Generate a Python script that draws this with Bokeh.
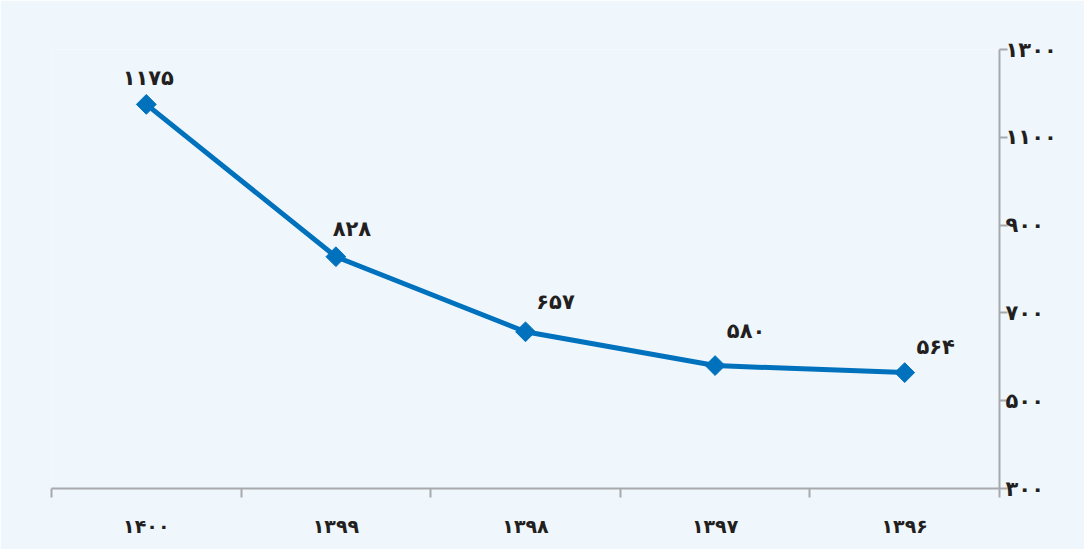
import math
from bokeh.plotting import figure
from bokeh.models import FixedTicker, Range1d, ColumnDataSource
from bokeh.embed import file_html
from bokeh.resources import INLINE
from bokeh.core.properties import value

years = ["۱۴۰۰", "۱۳۹۹", "۱۳۹۸", "۱۳۹۷", "۱۳۹۶"]
values = [1175, 828, 657, 580, 564]
labels = ["۱۱۷۵", "۸۲۸", "۶۵۷", "۵۸۰", "۵۶۴"]
y_ticks = [300, 500, 700, 900, 1100, 1300]
y_tick_labels = ["۳۰۰", "۵۰۰", "۷۰۰", "۹۰۰", "۱۱۰۰", "۱۳۰۰"]

label_dx = [2, 16, 30, 31, 31]
label_dy = [-26, -28, -30, -35, -26]

BG = "#eff7fc"
BLUE = "#0071bc"
FONT = "DejaVu Sans"

xs = [i + 0.5 for i in range(len(years))]
src = ColumnDataSource(dict(x=xs, y=values, lab=labels, dx=label_dx, dy=label_dy))

p = figure(width=1084, height=549, output_backend="svg", toolbar_location=None,
           x_range=Range1d(0, len(years)), y_range=Range1d(300, 1300),
           x_axis_location="below", y_axis_location="right",
           min_border_top=49, min_border_bottom=61, min_border_left=51, min_border_right=85)
p.background_fill_color = BG
p.border_fill_color = BG
p.outline_line_color = None
p.grid.visible = False

p.line("x", "y", source=src, line_color=BLUE, line_width=5)
p.scatter("x", "y", source=src, marker="square", angle=math.pi / 4, size=14,
          fill_color=BLUE, line_color=BLUE)
p.text("x", "y", text="lab", source=src, x_offset="dx", y_offset="dy",
       text_align="center", text_baseline="middle", text_font=value(FONT),
       text_font_style="bold", text_font_size="21px", text_color="#231f20")

xa = p.xaxis[0]
xa.ticker = FixedTicker(ticks=xs, minor_ticks=list(range(len(years) + 1)))
xa.major_label_overrides = {x: y for x, y in zip(xs, years)}
xa.major_tick_in = 0
xa.major_tick_out = 0
xa.minor_tick_in = 0
xa.minor_tick_out = 9
xa.axis_line_color = "#a7a9ac"
xa.axis_line_width = 2
xa.minor_tick_line_color = "#a7a9ac"
xa.minor_tick_line_width = 2
xa.major_label_standoff = 17
xa.major_label_text_font = FONT
xa.major_label_text_font_style = "bold"
xa.major_label_text_font_size = "19px"
xa.major_label_text_color = "#231f20"

ya = p.yaxis[0]
ya.ticker = FixedTicker(ticks=y_ticks, minor_ticks=[])
ya.major_label_overrides = {t: l for t, l in zip(y_ticks, y_tick_labels)}
ya.major_tick_in = 0
ya.major_tick_out = 8
ya.axis_line_color = "#a7a9ac"
ya.axis_line_width = 2
ya.major_tick_line_color = "#a7a9ac"
ya.major_tick_line_width = 2
ya.major_label_standoff = -2
ya.major_label_text_font = FONT
ya.major_label_text_font_style = "bold"
ya.major_label_text_font_size = "21px"
ya.major_label_text_color = "#231f20"

open("out.html", "w").write(file_html(p, INLINE))
